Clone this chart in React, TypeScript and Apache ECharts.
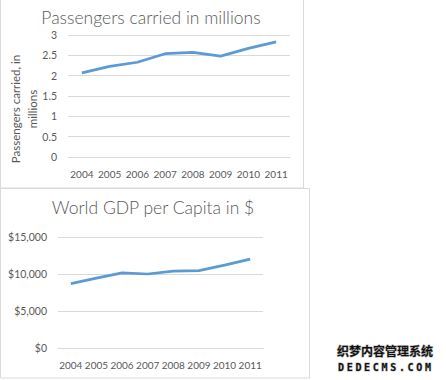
import React, { useEffect, useRef } from "react";
import * as echarts from "echarts";

const years = ["2004", "2005", "2006", "2007", "2008", "2009", "2010", "2011"];
const passengers = [2.07, 2.23, 2.33, 2.54, 2.57, 2.48, 2.67, 2.83];
const gdpPerCapita = [8700, 9450, 10150, 10000, 10400, 10450, 11200, 12000];

const titleTop = "Passengers carried in millions";
const titleBottom = "World GDP per Capita in $";
const yNameTop = "Passengers carried, in\nmillions";
const watermarkCn = "织梦内容管理系统";
const watermarkEn = "DEDECMS.COM";

const FONT = "Lato, 'Open Sans', sans-serif";
const GRAY = "#595959";
const GRID = "#D9D9D9";
const BLUE = "#5B9BD5";

export default function App() {
  const ref = useRef<HTMLDivElement>(null);
  useEffect(() => {
    if (!ref.current) return;
    const chart = echarts.init(ref.current, null, { renderer: "svg" });
    const axisLabel = { color: GRAY, fontSize: 10, fontFamily: FONT };
    const enChars = watermarkEn.split("").map((c, i) => ({
      type: "text",
      x: 341 + i * 8.7,
      y: 367,
      style: {
        text: c, fill: "#111", stroke: "#bbb", lineWidth: 1,
        font: `bold 10px 'DejaVu Sans Mono', monospace`,
        textAlign: "center", textVerticalAlign: "middle",
      },
    }));
    chart.setOption({
      animation: false,
      backgroundColor: "#ffffff",
      grid: [
        { left: 68, top: 35, width: 222, height: 122 },
        { left: 58, top: 237, width: 205, height: 111 },
      ],
      xAxis: [
        {
          type: "category", gridIndex: 0, data: years, boundaryGap: true,
          axisLine: { lineStyle: { color: GRID } }, axisTick: { show: false },
          axisLabel: { ...axisLabel, margin: 12, interval: 0 },
        },
        {
          type: "category", gridIndex: 1, data: years, boundaryGap: true,
          axisLine: { lineStyle: { color: GRID } }, axisTick: { show: false },
          axisLabel: { ...axisLabel, margin: 12, interval: 0 },
        },
      ],
      yAxis: [
        {
          type: "value", gridIndex: 0, min: 0, max: 3, interval: 0.5,
          axisLine: { show: false }, axisTick: { show: false },
          splitLine: { lineStyle: { color: GRID } },
          axisLabel: { ...axisLabel, fontSize: 10.5, margin: 11 },
        },
        {
          type: "value", gridIndex: 1, min: 0, max: 15000, interval: 5000,
          axisLine: { show: false }, axisTick: { show: false },
          splitLine: { lineStyle: { color: GRID } },
          axisLabel: {
            ...axisLabel, fontSize: 10.5, margin: 11,
            formatter: (v: number) => "$" + v.toLocaleString("en-US"),
          },
        },
      ],
      series: [
        {
          type: "line", xAxisIndex: 0, yAxisIndex: 0, data: passengers,
          showSymbol: false, lineStyle: { color: BLUE, width: 2.75 }, itemStyle: { color: BLUE },
        },
        {
          type: "line", xAxisIndex: 1, yAxisIndex: 1, data: gdpPerCapita,
          showSymbol: false, lineStyle: { color: BLUE, width: 2.75 }, itemStyle: { color: BLUE },
        },
      ],
      graphic: [
        { type: "rect", shape: { x: 0.5, y: -1, width: 303, height: 189 }, style: { fill: "none", stroke: GRID, lineWidth: 1 }, silent: true },
        { type: "rect", shape: { x: 0.5, y: 188.5, width: 309, height: 189.5 }, style: { fill: "none", stroke: GRID, lineWidth: 1 }, silent: true },
        { type: "text", x: 151, y: 17, style: { text: titleTop, fill: GRAY, font: `300 17.5px ${FONT}`, textAlign: "center", textVerticalAlign: "middle" } },
        { type: "text", x: 153, y: 207, style: { text: titleBottom, fill: GRAY, font: `300 17.5px ${FONT}`, textAlign: "center", textVerticalAlign: "middle" } },
        { type: "text", x: 24, y: 109, rotation: Math.PI / 2, style: { text: yNameTop, fill: GRAY, font: `11.5px ${FONT}`, lineHeight: 17, textAlign: "center", textVerticalAlign: "middle" } },
        { type: "text", x: 385, y: 350, style: { text: watermarkCn, fill: "#111", stroke: "#bbb", lineWidth: 1, font: `bold 12px 'Noto Sans CJK SC', sans-serif`, textAlign: "center", textVerticalAlign: "middle" } },
        ...enChars,
      ],
    });
    return () => chart.dispose();
  }, []);
  return <div ref={ref} style={{ position: "fixed", left: 0, top: 0, width: 446, height: 380 }} />;
}
